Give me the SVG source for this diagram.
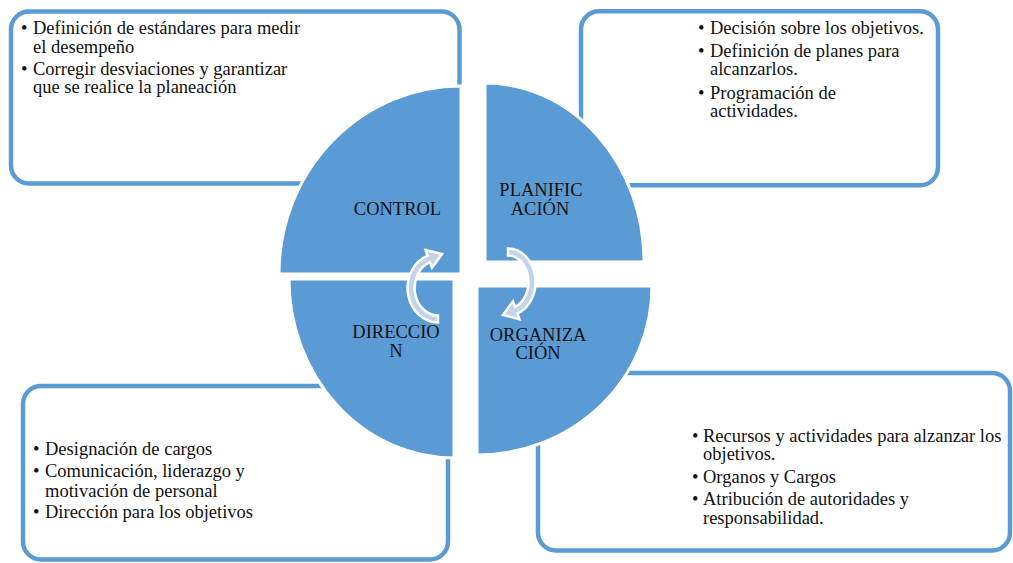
<svg xmlns="http://www.w3.org/2000/svg" width="1013" height="563" viewBox="0 0 1013 563">
  <style>
    .box { fill: #ffffff; stroke: #5B9BD5; stroke-width: 4.5; }
    .quad { fill: #5B9BD5; stroke: #ffffff; stroke-width: 3; }
    .txt { font-family: "Liberation Serif", "Times New Roman", serif; font-size: 18.5px; fill: #111111; }
    .lbl { font-family: "Liberation Serif", "Times New Roman", serif; font-size: 18.5px; fill: #111111; text-anchor: middle; }
    .arrow { fill: #C3D3EA; stroke: #ffffff; stroke-width: 2.5; stroke-linejoin: miter; }
  </style>
  <rect width="1013" height="563" fill="#ffffff"/>

  <!-- detail boxes (behind the circle) -->
  <g id="box-control">
    <rect class="box" x="11" y="11.5" width="448.5" height="172" rx="18"/>
    <text class="txt" x="21" y="34">•</text>
    <text class="txt" x="33" y="34">Definición de estándares para medir</text>
    <text class="txt" x="33" y="53">el desempeño</text>
    <text class="txt" x="21" y="75">•</text>
    <text class="txt" x="33" y="75">Corregir desviaciones y garantizar</text>
    <text class="txt" x="33" y="93">que se realice la planeación</text>
  </g>

  <g id="box-planificacion">
    <rect class="box" x="581" y="11.3" width="357" height="174" rx="18"/>
    <text class="txt" x="698" y="34">•</text>
    <text class="txt" x="710" y="34">Decisión sobre los objetivos.</text>
    <text class="txt" x="698" y="56.5">•</text>
    <text class="txt" x="710" y="56.5">Definición de planes para</text>
    <text class="txt" x="710" y="75">alcanzarlos.</text>
    <text class="txt" x="698" y="98.5">•</text>
    <text class="txt" x="710" y="98.5">Programación de</text>
    <text class="txt" x="710" y="117">actividades.</text>
  </g>

  <g id="box-direccion">
    <rect class="box" x="23" y="386" width="425" height="173.5" rx="18"/>
    <text class="txt" x="33" y="455">•</text>
    <text class="txt" x="45" y="455">Designación de cargos</text>
    <text class="txt" x="33" y="477">•</text>
    <text class="txt" x="45" y="477">Comunicación, liderazgo y</text>
    <text class="txt" x="45" y="496.5">motivación de personal</text>
    <text class="txt" x="33" y="518">•</text>
    <text class="txt" x="45" y="518">Dirección para los objetivos</text>
  </g>

  <g id="box-organizacion">
    <rect class="box" x="538" y="373" width="472" height="177.5" rx="18"/>
    <text class="txt" x="692" y="442">•</text>
    <text class="txt" x="703" y="442">Recursos y actividades para alzanzar los</text>
    <text class="txt" x="703" y="460">objetivos.</text>
    <text class="txt" x="692" y="483">•</text>
    <text class="txt" x="703" y="483">Organos y Cargos</text>
    <text class="txt" x="692" y="505">•</text>
    <text class="txt" x="703" y="505">Atribución de autoridades y</text>
    <text class="txt" x="703" y="524">responsabilidad.</text>
  </g>

  <!-- central cycle: four quarter segments -->
  <g id="quad-control">
    <path class="quad" d="M461,274 L279,274 A182,188 0 0 1 461,86 Z"/>
    <text class="lbl" x="397.5" y="215">CONTROL</text>
  </g>
  <g id="quad-planificacion">
    <path class="quad" d="M485,262 L485,83 A159,179 0 0 1 644,262 Z"/>
    <text class="lbl" x="541" y="196">PLANIFIC</text>
    <text class="lbl" x="540" y="215">ACIÓN</text>
  </g>
  <g id="quad-organizacion">
    <path class="quad" d="M477,286 L652,286 A175,169 0 0 1 477,455 Z"/>
    <text class="lbl" x="538" y="341">ORGANIZA</text>
    <text class="lbl" x="538" y="359">CIÓN</text>
  </g>
  <g id="quad-direccion">
    <path class="quad" d="M454,279 L454,458 A165,179 0 0 1 289,279 Z"/>
    <text class="lbl" x="396" y="338">DIRECCIO</text>
    <text class="lbl" x="396" y="357">N</text>
  </g>

  <!-- curved cycle arrows -->
  <g id="connectors">
    <path class="arrow" d="M438,322.5 A30.5,34.5 0 0 1 427.6,255.6 L425.6,250 L442,254.1 L432,267.8 L430,262.2 A23.5,27.5 0 0 0 438,315.5 Z"/>
    <path class="arrow" d="M508,248.5 A27.5,33.5 0 0 1 517.4,313.5 L519.4,319.1 L503,315 L513,301.3 L515,306.9 A20.5,26.5 0 0 0 508,255.5 Z"/>
  </g>
</svg>
